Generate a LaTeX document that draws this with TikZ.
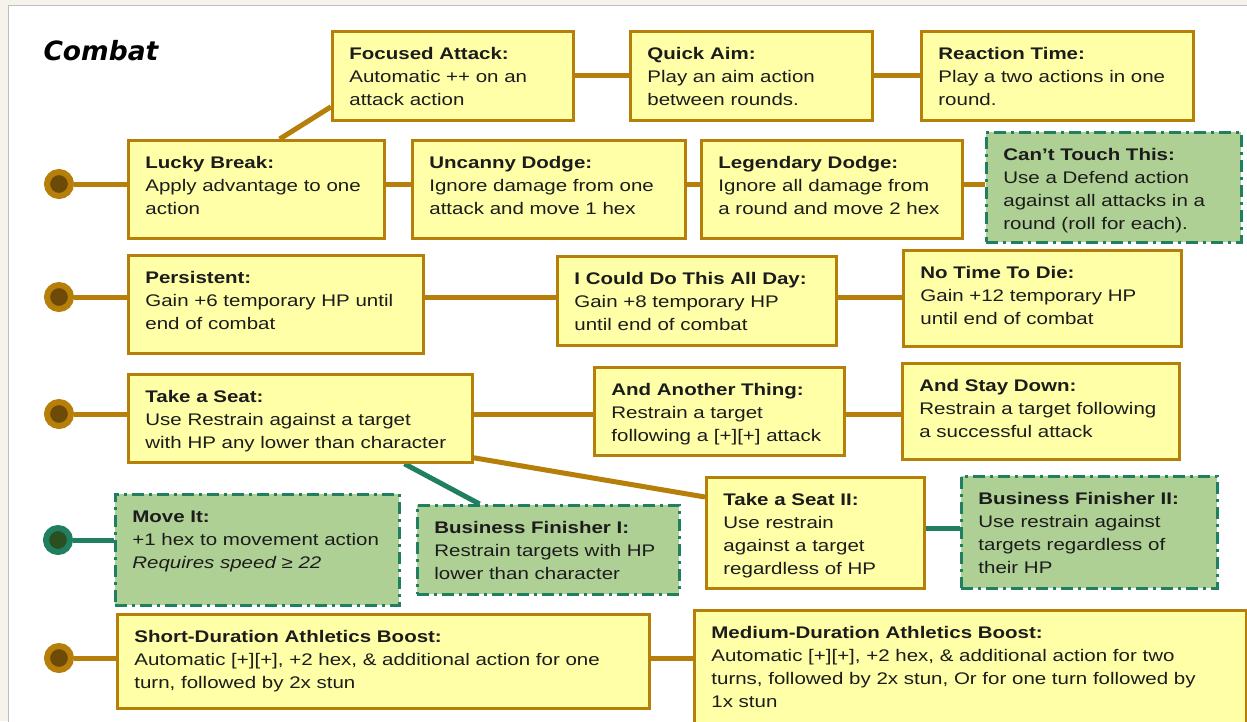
\documentclass[tikz,border=0pt]{standalone}
\usepackage{fontspec}
\setmainfont[FakeStretch=1.22]{Liberation Sans}
\newfontfamily\titlefont{DejaVu Sans}
\usetikzlibrary{backgrounds,calc}
\definecolor{yel}{HTML}{FFFFA8}
\definecolor{brn}{HTML}{B57F0A}
\definecolor{brndark}{HTML}{6E4A08}
\definecolor{grn}{HTML}{AFD095}
\definecolor{tealc}{HTML}{1F7F60}
\definecolor{tealdark}{HTML}{2A4F20}
\definecolor{txt}{HTML}{1C1C1C}
\definecolor{bgc}{HTML}{F6F3EC}
\definecolor{panelc}{HTML}{BDBDBD}
\newcommand{\bxt}[4]{\makebox[#1pt][l]{\hspace*{17pt}\parbox[t][#2pt][t]{\dimexpr#1pt-20pt\relax}{\raggedright\rule{0pt}{28pt}\textbf{#3}\\#4}}}
\tikzset{
  ybox/.style={draw=brn, fill=yel, line width=2.8pt, inner sep=0pt, anchor=north west, text=txt, font=\fontsize{16.8}{23}\selectfont},
  gbox/.style={ybox, draw=tealc, fill=grn, dash pattern=on 12pt off 5pt on 3pt off 5pt},
  bline/.style={draw=brn, line width=5pt},
  tline/.style={draw=tealc, line width=5pt},
  bdot/.style={circle, draw=brn, fill=brndark, line width=6pt, minimum size=24pt, inner sep=0pt},
  tdot/.style={circle, draw=tealc, fill=tealdark, line width=6pt, minimum size=24pt, inner sep=0pt}
}
\begin{document}
\begin{tikzpicture}[x=1pt,y=-1pt]
\useasboundingbox (0,0) rectangle (1247,721);
\clip (0,0) rectangle (1247,721);
\begin{pgfonlayer}{background}
\fill[bgc] (0,0) rectangle (1247,721);
\draw[draw=panelc, fill=white, line width=1pt] (8,5) rectangle (1270,740);
\end{pgfonlayer}

\node[anchor=base west, text=black, font=\titlefont\bfseries\itshape\fontsize{26.5}{30}\selectfont] (title) at (40,60) {Combat};

\node[ybox] (fa) at (331,30) {\bxt{241}{89}{Focused Attack:}{Automatic ++ on an\\attack action}};
\node[ybox] (qa) at (629,30) {\bxt{242}{89}{Quick Aim:}{Play an aim action\\between rounds.}};
\node[ybox] (rt) at (920,30) {\bxt{272}{89}{Reaction Time:}{Play a two actions in one\\round.}};

\node[bdot] (c1) at (59,184) {};
\node[ybox] (lb) at (127,139) {\bxt{256}{98}{Lucky Break:}{Apply advantage to one\\action}};
\node[ybox] (ud) at (411,139) {\bxt{273}{98}{Uncanny Dodge:}{Ignore damage from one\\attack and move 1 hex}};
\node[ybox] (ld) at (700,139) {\bxt{261}{98}{Legendary Dodge:}{Ignore all damage from\\a round and move 2 hex}};
\node[gbox] (ct) at (985,131) {\bxt{255}{110}{Can’t Touch This:}{Use a Defend action\\against all attacks in a\\round (roll for each).}};

\node[bdot] (c2) at (59,297) {};
\node[ybox] (ps) at (127,254) {\bxt{295}{98}{Persistent:}{Gain +6 temporary HP until\\end of combat}};
\node[ybox] (cd) at (556,255) {\bxt{279}{89}{I Could Do This All Day:}{Gain +8 temporary HP\\until end of combat}};
\node[ybox] (nt) at (902,249) {\bxt{278}{96}{No Time To Die:}{Gain +12 temporary HP\\until end of combat}};

\node[bdot] (c3) at (59,414) {};
\node[ybox] (ts) at (127,373) {\bxt{344}{88}{Take a Seat:}{Use Restrain against a target\\with HP any lower than character}};
\node[ybox] (at) at (593,366) {\bxt{250}{88}{And Another Thing:}{Restrain a target\\following a [+][+] attack}};
\node[ybox] (sd) at (901,362) {\bxt{277}{96}{And Stay Down:}{Restrain a target following\\a successful attack}};

\node[tdot] (c4) at (58,540) {};
\node[gbox] (mi) at (114,493) {\bxt{284}{111}{Move It:}{+1 hex to movement action\\\textit{Requires speed ≥ 22}}};
\node[gbox] (bf1) at (416,504) {\bxt{262}{89}{Business Finisher I:}{Restrain targets with HP\\lower than character}};
\node[ybox] (ts2) at (705,476) {\bxt{218}{111}{Take a Seat II:}{Use restrain\\against a target\\regardless of HP}};
\node[gbox] (bf2) at (960,475) {\bxt{256}{112}{Business Finisher II:}{Use restrain against\\targets regardless of\\their HP}};

\node[bdot] (c5) at (59,658) {};
\node[ybox] (sb) at (116,613) {\bxt{532}{94}{Short-Duration Athletics Boost:}{Automatic [+][+], +2 hex, \& additional action for one\\turn, followed by 2x stun}};
\node[ybox] (mb) at (693,609) {\bxt{552}{114}{Medium-Duration Athletics Boost:}{Automatic [+][+], +2 hex, \& additional action for two\\turns, followed by 2x stun, Or for one turn followed by\\1x stun}};

\begin{pgfonlayer}{background}
\draw[bline] (fa) -- (qa);
\draw[bline] (qa) -- (rt);
\draw[bline] ($(lb.north west)!0.59!(lb.north east)$) -- ($(fa.south west)+(0,-15)$);
\draw[bline] (c1) -- (c1 -| lb.west);
\draw[bline] (lb.east |- c1) -- (ud.west |- c1);
\draw[bline] (ud.east |- c1) -- (ld.west |- c1);
\draw[bline] (ld.east |- c1) -- (ct.west |- c1);
\draw[bline] (c2) -- (c2 -| ps.west);
\draw[bline] (ps.east |- c2) -- (cd.west |- c2);
\draw[bline] (cd.east |- c2) -- (nt.west |- c2);
\draw[bline] (c3) -- (c3 -| ts.west);
\draw[bline] (ts.east |- c3) -- (at.west |- c3);
\draw[bline] (at.east |- c3) -- (sd.west |- c3);
\draw[tline] (c4) -- (c4 -| mi.west);
\draw[tline] ($(ts.south west)!0.8!(ts.south east)$) -- ($(bf1.north west)!0.24!(bf1.north east)$);
\draw[bline] ([yshift=6pt]ts.south east) -- ([yshift=-21pt]ts2.north west);
\draw[tline] ([yshift=4pt]ts2.east) -- ([yshift=4pt]ts2.east -| bf2.west);
\draw[bline] (c5) -- (c5 -| sb.west);
\draw[bline] (sb.east |- c5) -- (mb.west |- c5);
\end{pgfonlayer}
\end{tikzpicture}
\end{document}
